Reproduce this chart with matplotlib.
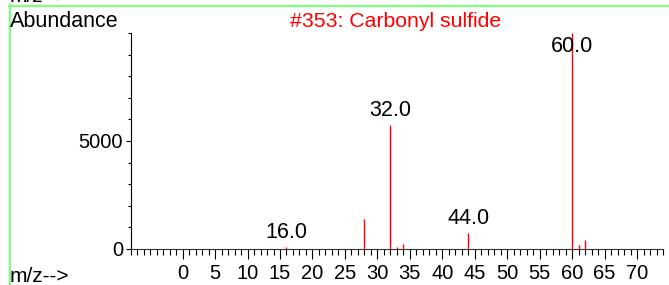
import matplotlib
matplotlib.use("Agg")
import matplotlib.pyplot as plt
from matplotlib.lines import Line2D
from matplotlib.ticker import MultipleLocator, FixedLocator

plt.rcParams['font.family'] = ['Liberation Sans', 'DejaVu Sans']

mz = [16, 28, 32, 33, 34, 44, 60, 61, 62]
abundance = [110, 1370, 5725, 70, 245, 750, 10000, 185, 415]
labeled = [16, 32, 44, 60]
title = "#353: Carbonyl sulfide"
x_ticks = list(range(0, 71, 5))
y_ticks = [0, 5000]

W, H = 669, 285
fig = plt.figure(figsize=(W / 100, H / 100), dpi=100)
ax = fig.add_axes([130.7 / W, 1 - 249 / H, (663 - 130.7) / W, (249 - 33) / H])

ax.vlines(mz, 0, abundance, colors='#ff0000', linewidth=1.0)

ax.set_xlim(-8, 74)
ax.set_ylim(0, 10000)
for s in ['top', 'right']:
    ax.spines[s].set_visible(False)
ax.spines['left'].set_color('black')
ax.spines['bottom'].set_color('#333333')
ax.spines['left'].set_linewidth(0.8)
ax.spines['bottom'].set_linewidth(0.8)

ax.xaxis.set_major_locator(FixedLocator(x_ticks))
ax.xaxis.set_minor_locator(MultipleLocator(1))
ax.yaxis.set_major_locator(FixedLocator(y_ticks))
ax.yaxis.set_minor_locator(MultipleLocator(1000))

ax.tick_params(axis='x', which='major', direction='out', length=7, width=0.8, pad=3.5, labelsize=14.5)
ax.tick_params(axis='x', which='minor', direction='out', length=4, width=0.8)
ax.tick_params(axis='y', which='major', direction='out', length=3.5, width=0.8, pad=2, labelsize=14.5)
ax.tick_params(axis='y', which='minor', direction='out', length=2, width=0.8)

for m, a in zip(mz, abundance):
    if m in labeled:
        if a >= 9000:
            ax.annotate(f"{m:.1f}", xy=(m, ax.get_ylim()[1]), xytext=(0, -3),
                        textcoords='offset pixels', ha='center', va='top',
                        fontsize=15.5, color='black')
        else:
            ax.annotate(f"{m:.1f}", xy=(m, a), xytext=(0, 4),
                        textcoords='offset pixels', ha='center', va='bottom',
                        fontsize=15.5, color='black')

fig.text(10 / W, 1 - 27 / H, "Abundance", fontsize=15.5, ha='left', va='baseline')
fig.text(396 / W, 1 - 27 / H, title, fontsize=15.3, ha='center', va='baseline', color='#ff0000')
fig.text(10 / W, 1 - 282 / H, "m/z-->", fontsize=15, ha='left', va='baseline')
fig.text(10 / W, 1 - 2 / H, "m/z-->", fontsize=15, ha='left', va='baseline')

green = '#80ff80'
fig.add_artist(Line2D([9 / W, 1], [1 - 5.5 / H, 1 - 5.5 / H], transform=fig.transFigure, color=green, linewidth=1.6))
fig.add_artist(Line2D([9.5 / W, 9.5 / W], [0, 1 - 5 / H], transform=fig.transFigure, color=green, linewidth=1.6))

fig.savefig("out.png", dpi=100)
